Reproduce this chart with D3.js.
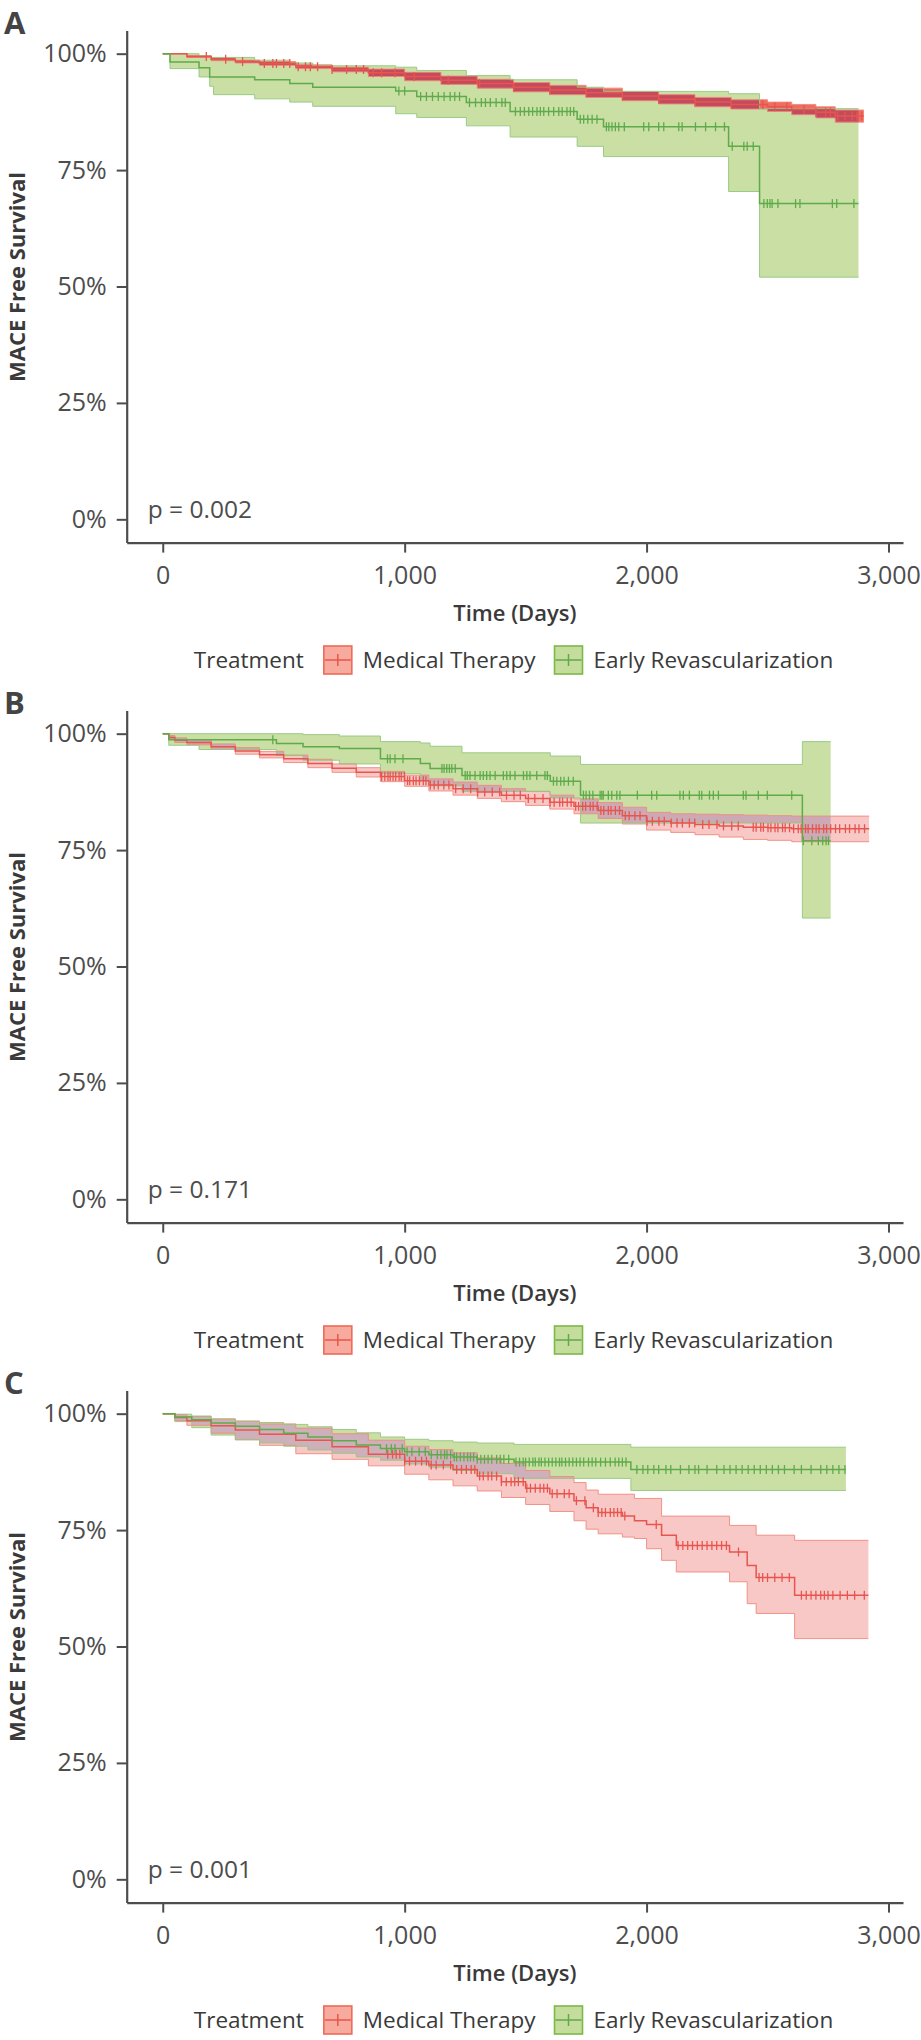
<!DOCTYPE html>
<html><head><meta charset="utf-8">
<script src="https://cdn.jsdelivr.net/npm/d3@7"></script>
<style>
body{margin:0;background:#fff;}
svg text{font-family:"Open Sans",sans-serif;}
</style></head>
<body><svg id="chart" width="921" height="2040"></svg>
<script>
// ---------- labels ----------
const panelLetters = ["A", "B", "C"];
const pValues = ["p = 0.002", "p = 0.171", "p = 0.001"];
const groups = ["Medical Therapy", "Early Revascularization"];
const legendTitle = "Treatment";
const xTitle = "Time (Days)";
const yTitle = "MACE Free Survival";
const xTicks = [0, 1000, 2000, 3000];
const yTicks = [0, 25, 50, 75, 100];
const yTickLabels = ["0%", "25%", "50%", "75%", "100%"];

// ---------- Panel A ----------
const A_med_time  = [0, 100, 200, 300, 400, 550, 700, 850, 1000, 1150, 1300, 1450, 1600, 1750, 1900, 2050, 2200, 2350, 2500, 2600, 2700, 2780];
const A_med_surv  = [100, 99.4, 98.8, 98.3, 97.9, 97.2, 96.6, 95.9, 95.1, 94.3, 93.6, 92.8, 92.2, 91.6, 90.9, 90.2, 89.6, 89.1, 88.6, 88.0, 87.4, 86.6];
const A_med_lower = [100, 99.2, 98.5, 98.0, 97.5, 96.8, 96.1, 95.1, 94.2, 93.4, 92.6, 91.8, 91.2, 90.6, 89.9, 89.2, 88.6, 88.1, 87.6, 86.9, 86.2, 85.3];
const A_med_upper = [100, 99.6, 99.1, 98.6, 98.3, 97.6, 97.1, 96.7, 96.0, 95.2, 94.5, 93.8, 93.2, 92.6, 91.9, 91.2, 90.6, 90.1, 89.6, 89.1, 88.6, 87.9];
const A_med_end = 2898;
const A_med_censor = [180, 260, 330, 420, 455, 470, 500, 525, 560, 590, 610, 640, 700, 760, 800, 830, 870, 905, 960, 1040, 1180, 1310, 1450, 1600, 1750, 1900, 2050, 2200, 2350, 2480, 2530, 2580, 2650, 2700, 2740, 2760, 2790, 2820, 2850, 2870, 2890];

const A_rev_time  = [0, 30, 150, 194, 210, 380, 525, 620, 963, 1050, 1255, 1436, 1713, 1822, 2339, 2467];
const A_rev_surv  = [100, 98.2, 97.0, 95.0, 95.0, 94.4, 93.6, 92.8, 92.0, 90.8, 89.5, 87.6, 85.9, 84.3, 80.1, 67.8];
const A_rev_lower = [100, 96.8, 95.0, 93.0, 91.2, 90.3, 89.6, 88.7, 87.1, 86.3, 84.5, 82.1, 80.1, 77.9, 70.4, 52.0];
const A_rev_upper = [100, 100, 99.6, 99.2, 99.2, 98.6, 98.0, 97.4, 97.1, 96.4, 95.3, 94.4, 92.8, 91.9, 91.4, 88.2];
const A_rev_end = 2876;
const A_rev_censor = [976, 1000, 1066, 1090, 1115, 1139, 1163, 1188, 1207, 1227, 1268, 1293, 1317, 1334, 1354, 1378, 1402, 1416, 1458, 1478, 1495, 1513, 1529, 1547, 1561, 1575, 1595, 1616, 1637, 1651, 1671, 1685, 1699, 1726, 1740, 1757, 1775, 1795, 1834, 1844, 1857, 1871, 1885, 1908, 1988, 2009, 2050, 2071, 2133, 2147, 2202, 2244, 2285, 2322, 2354, 2402, 2416, 2441, 2485, 2499, 2510, 2519, 2543, 2616, 2634, 2768, 2786, 2857];

// ---------- Panel B ----------
const B_med_time  = [0, 25, 50, 100, 200, 300, 400, 500, 600, 700, 800, 900, 1000, 1100, 1200, 1300, 1400, 1500, 1600, 1700, 1800, 1900, 2000, 2100, 2200, 2300, 2400, 2500, 2600];
const B_med_surv  = [100, 99.2, 98.6, 98.1, 97.2, 96.3, 95.5, 94.6, 93.6, 92.6, 91.7, 90.8, 89.9, 89.0, 88.2, 87.5, 86.8, 86.1, 85.3, 84.4, 83.5, 82.4, 81.2, 80.8, 80.5, 80.2, 79.9, 79.8, 79.6];
const B_med_lower = [100, 98.8, 98.1, 97.6, 96.6, 95.6, 94.8, 93.8, 92.7, 91.7, 90.7, 89.7, 88.7, 87.7, 86.8, 86.1, 85.4, 84.6, 83.8, 82.8, 81.8, 80.6, 79.3, 78.8, 78.3, 77.8, 77.3, 77.1, 76.8];
const B_med_upper = [100, 99.6, 99.1, 98.6, 97.8, 97.0, 96.2, 95.4, 94.5, 93.5, 92.7, 91.9, 91.1, 90.3, 89.6, 88.9, 88.2, 87.6, 86.8, 86.0, 85.2, 84.2, 83.1, 82.8, 82.7, 82.6, 82.5, 82.4, 82.3];
const B_med_end = 2920;
const B_med_censor = [905, 918, 931, 940, 952, 963, 977, 986, 999, 1012, 1021, 1036, 1047, 1061, 1077, 1088, 1106, 1122, 1139, 1162, 1183, 1211, 1242, 1273, 1302, 1331, 1362, 1393, 1421, 1452, 1478, 1511, 1538, 1572, 1601, 1618, 1641, 1653, 1672, 1688, 1707, 1719, 1736, 1748, 1767, 1779, 1796, 1811, 1823, 1842, 1853, 1871, 1888, 1912, 1928, 1952, 1973, 2002, 2024, 2051, 2073, 2102, 2126, 2148, 2177, 2199, 2232, 2258, 2291, 2318, 2352, 2379, 2441, 2453, 2472, 2483, 2502, 2514, 2531, 2543, 2562, 2573, 2591, 2608, 2627, 2639, 2657, 2668, 2686, 2701, 2713, 2732, 2744, 2761, 2781, 2798, 2822, 2839, 2862, 2878, 2901];

const B_rev_time  = [0, 25, 150, 470, 580, 730, 900, 1065, 1105, 1237, 1602, 1727, 2644];
const B_rev_surv  = [100, 98.7, 98.7, 97.9, 97.2, 96.8, 94.6, 93.6, 92.5, 91.0, 89.8, 86.8, 77.0];
const B_rev_lower = [100, 97.5, 96.6, 95.3, 94.3, 93.5, 91.4, 89.9, 88.8, 87.6, 86.2, 80.8, 60.4];
const B_rev_upper = [100, 100, 100, 100, 99.8, 99.5, 98.3, 98.0, 97.3, 95.9, 95.2, 93.4, 98.3];
const B_rev_end = 2761;
const B_rev_censor = [455, 929, 940, 960, 993, 1154, 1163, 1174, 1185, 1195, 1209, 1250, 1259, 1270, 1291, 1312, 1325, 1339, 1353, 1374, 1408, 1422, 1436, 1456, 1491, 1505, 1518, 1546, 1580, 1590, 1615, 1629, 1645, 1659, 1677, 1697, 1739, 1750, 1764, 1778, 1808, 1815, 1821, 1842, 1856, 1877, 1890, 1962, 2021, 2042, 2138, 2152, 2177, 2218, 2228, 2260, 2276, 2297, 2400, 2411, 2462, 2499, 2600, 2648, 2683, 2710, 2728, 2742, 2752];

// ---------- Panel C ----------
const C_med_time  = [0, 50, 100, 200, 300, 400, 550, 700, 850, 1000, 1100, 1200, 1300, 1400, 1500, 1600, 1700, 1750, 1800, 1900, 1950, 2000, 2062, 2123, 2343, 2416, 2453, 2612];
const C_med_surv  = [100, 99.2, 98.5, 97.4, 96.5, 95.6, 94.3, 92.9, 91.3, 89.8, 89.0, 88.0, 86.6, 85.4, 84.0, 82.8, 81.3, 79.8, 78.8, 78.0, 77.0, 76.2, 73.9, 71.7, 70.3, 67.4, 64.8, 61.0];
const C_med_lower = [100, 98.5, 97.5, 95.8, 94.4, 93.2, 91.4, 90.2, 88.8, 87.0, 85.8, 84.5, 83.4, 82.0, 80.5, 79.0, 77.0, 75.2, 74.2, 73.5, 73.2, 71.0, 68.5, 66.0, 63.9, 59.2, 57.1, 51.7];
const C_med_upper = [100, 99.8, 99.4, 98.9, 98.4, 97.8, 96.9, 95.7, 94.3, 93.0, 92.3, 91.6, 90.5, 89.3, 87.8, 86.5, 85.2, 83.6, 82.7, 82.7, 81.8, 81.8, 78.0, 78.0, 76.0, 76.0, 73.9, 72.8];
const C_med_end = 2917;
const C_med_censor = [930, 950, 965, 980, 1000, 1020, 1045, 1070, 1090, 1110, 1130, 1160, 1190, 1215, 1235, 1255, 1275, 1290, 1310, 1325, 1345, 1360, 1380, 1400, 1420, 1440, 1455, 1470, 1490, 1505, 1520, 1540, 1560, 1575, 1590, 1610, 1630, 1660, 1680, 1710, 1745, 1780, 1800, 1815, 1830, 1850, 1865, 1880, 1895, 1910, 2040, 2130, 2150, 2170, 2190, 2210, 2230, 2250, 2270, 2290, 2310, 2330, 2380, 2465, 2480, 2500, 2530, 2560, 2590, 2640, 2660, 2680, 2700, 2720, 2735, 2750, 2770, 2800, 2830, 2860, 2900];

const C_rev_time  = [0, 50, 120, 200, 300, 400, 500, 600, 700, 800, 900, 1000, 1100, 1200, 1300, 1452, 1935];
const C_rev_surv  = [100, 99.3, 98.7, 98.0, 97.3, 96.6, 95.8, 95.0, 94.2, 93.3, 92.5, 91.8, 91.2, 90.7, 90.2, 89.6, 88.0];
const C_rev_lower = [100, 98.3, 97.0, 95.4, 94.4, 93.7, 93.0, 92.2, 91.5, 90.7, 90.0, 89.2, 88.5, 87.8, 87.1, 86.1, 83.5];
const C_rev_upper = [100, 99.9, 99.5, 98.8, 98.4, 98.1, 97.7, 97.2, 96.6, 95.9, 95.0, 94.5, 94.2, 93.9, 93.7, 93.4, 92.8];
const C_rev_end = 2824;
const C_rev_censor = [925, 945, 960, 990, 1010, 1030, 1060, 1085, 1110, 1135, 1150, 1165, 1175, 1190, 1205, 1215, 1230, 1245, 1260, 1272, 1285, 1300, 1315, 1330, 1345, 1360, 1380, 1395, 1410, 1430, 1460, 1475, 1490, 1500, 1515, 1530, 1540, 1555, 1565, 1580, 1595, 1610, 1625, 1640, 1650, 1665, 1680, 1695, 1710, 1725, 1740, 1760, 1775, 1790, 1810, 1830, 1850, 1870, 1885, 1900, 1915, 1960, 1985, 2005, 2030, 2050, 2080, 2100, 2140, 2175, 2200, 2215, 2250, 2290, 2320, 2345, 2370, 2395, 2420, 2445, 2470, 2495, 2520, 2545, 2570, 2610, 2640, 2680, 2720, 2745, 2770, 2795, 2820];

// ---------- assemble ----------
function grp(time, surv, lower, upper, end, censor) { return {time, surv, lower, upper, end, censor}; }
const panels = [
  {med: grp(A_med_time, A_med_surv, A_med_lower, A_med_upper, A_med_end, A_med_censor),
   rev: grp(A_rev_time, A_rev_surv, A_rev_lower, A_rev_upper, A_rev_end, A_rev_censor)},
  {med: grp(B_med_time, B_med_surv, B_med_lower, B_med_upper, B_med_end, B_med_censor),
   rev: grp(B_rev_time, B_rev_surv, B_rev_lower, B_rev_upper, B_rev_end, B_rev_censor)},
  {med: grp(C_med_time, C_med_surv, C_med_lower, C_med_upper, C_med_end, C_med_censor),
   rev: grp(C_rev_time, C_rev_surv, C_rev_lower, C_rev_upper, C_rev_end, C_rev_censor)}
];

// ---------- style ----------
const PANEL_H = 680;
const style = {
  axis: "#4d4d4d", text: "#4d4d4d", title: "#3a3a3a",
  redLine: "#e8554e", redFill: "#f8c8c6", redEdge: "#f08a7c",
  greenLine: "#5fab4b", greenFill: "#c9dfa4", greenEdge: "#93c77f",
  overlap: ["#c34b5e", "#cbaab5", "#cdb0b9"],
  redFillPanel: ["#ee6d60", "#f8c8c6", "#f8c8c6"]
};

const svg = d3.select("#chart");
const x = d3.scaleLinear().domain([-149, 3060]).range([126.7, 903]);

panels.forEach((p, i) => {
  const off = i * PANEL_H;
  const y = d3.scaleLinear().domain([-5, 105]).range([542.6 + off, 30.4 + off]);
  const g = svg.append("g");

  const pts = gr => {
    const a = gr.time.map((t, k) => ({t, s: gr.surv[k], lo: gr.lower[k], hi: gr.upper[k]}));
    const last = a[a.length - 1];
    a.push({t: gr.end, s: last.s, lo: last.lo, hi: last.hi});
    return a;
  };
  const med = pts(p.med), rev = pts(p.rev);
  const area = d3.area().x(d => x(d.t)).y0(d => y(d.lo)).y1(d => y(d.hi)).curve(d3.curveStepAfter);
  const lineS = d3.line().x(d => x(d.t)).y(d => y(d.s)).curve(d3.curveStepAfter);
  const lineLo = d3.line().x(d => x(d.t)).y(d => y(d.lo)).curve(d3.curveStepAfter);
  const lineHi = d3.line().x(d => x(d.t)).y(d => y(d.hi)).curve(d3.curveStepAfter);

  // ribbons
  g.append("path").attr("d", area(rev)).attr("fill", style.greenFill);
  g.append("path").attr("d", area(med)).attr("fill", style.redFillPanel[i]);
  const cid = "clipG" + i;
  svg.append("clipPath").attr("id", cid).append("path").attr("d", area(rev));
  g.append("path").attr("d", area(med)).attr("fill", style.overlap[i]).attr("clip-path", `url(#${cid})`);
  // ribbon edges
  [lineLo, lineHi].forEach(L => {
    g.append("path").attr("d", L(med)).attr("fill", "none").attr("stroke", style.redEdge).attr("stroke-width", 1).attr("opacity", 0.9);
  });
  [lineLo, lineHi].forEach(L => {
    g.append("path").attr("d", L(rev)).attr("fill", "none").attr("stroke", style.greenEdge).attr("stroke-width", 1).attr("opacity", 0.9);
  });
  // survival lines
  g.append("path").attr("d", lineS(med)).attr("fill", "none").attr("stroke", style.redLine).attr("stroke-width", 1.5);
  g.append("path").attr("d", lineS(rev)).attr("fill", "none").attr("stroke", style.greenLine).attr("stroke-width", 1.5);
  // censor marks
  const survAt = (gr, t) => gr.surv[Math.max(0, d3.bisectRight(gr.time, t) - 1)];
  [[p.med, style.redLine], [p.rev, style.greenLine]].forEach(([gr, col]) => {
    g.append("g").selectAll("line").data(gr.censor).join("line")
      .attr("x1", d => x(d)).attr("x2", d => x(d))
      .attr("y1", d => y(survAt(gr, d)) - 4.5).attr("y2", d => y(survAt(gr, d)) + 4.5)
      .attr("stroke", col).attr("stroke-width", 1.3);
  });

  // axes
  const gx = g.append("g").attr("transform", `translate(0,${y(-5)})`)
    .call(d3.axisBottom(x).tickValues(xTicks).tickFormat(d3.format(",")).tickSize(10).tickSizeOuter(0).tickPadding(14));
  const gy = g.append("g").attr("transform", `translate(${x(-149)},0)`)
    .call(d3.axisLeft(y).tickValues(yTicks).tickFormat((d, k) => yTickLabels[k]).tickSize(10).tickSizeOuter(0).tickPadding(10));
  [gx, gy].forEach(ax => {
    ax.attr("font-family", null).attr("font-size", null);
    ax.select(".domain").attr("stroke", style.axis).attr("stroke-width", 2.2);
    ax.selectAll(".tick line").attr("stroke", style.axis).attr("stroke-width", 2);
    ax.selectAll(".tick text").attr("fill", style.text).style("font-size", "25px");
  });

  // p value
  g.append("text").attr("x", x(-62)).attr("y", y(2.2)).attr("dy", "0.35em")
    .attr("fill", style.text).style("font-size", "24.5px").text(pValues[i]);

  // axis titles
  g.append("text").attr("x", (x.range()[0] + x.range()[1]) / 2).attr("y", 621 + off)
    .attr("text-anchor", "middle").attr("fill", style.title).style("font-size", "22px").style("font-weight", 600).text(xTitle);
  g.append("text").attr("transform", `translate(25,${277 + off}) rotate(-90)`)
    .attr("text-anchor", "middle").attr("fill", style.title).style("font-size", "22px").style("font-weight", 700).text(yTitle);

  // panel letter
  g.append("text").attr("x", 4).attr("y", 34 + off).attr("fill", "#444").style("font-size", "31px").style("font-weight", 700).text(panelLetters[i]);

  // legend
  const lg = g.append("g");
  const cy = 660 + off;
  const t0 = lg.append("text").attr("x", 0).attr("y", cy).attr("dy", "0.35em").attr("fill", style.title).style("font-size", "22.5px").text(legendTitle);
  let cx = t0.node().getComputedTextLength() + 20;
  const legCols = [[style.redLine, "#f6ab9e", "#ef6b58"], [style.greenLine, "#c4dc9c", "#7cba46"]];
  groups.forEach((name, k) => {
    const [lc, fc, bc] = legCols[k];
    lg.append("rect").attr("x", cx).attr("y", cy - 14).attr("width", 28).attr("height", 28).attr("fill", fc).attr("stroke", bc).attr("stroke-width", 1.6);
    lg.append("line").attr("x1", cx + 1).attr("x2", cx + 27).attr("y1", cy).attr("y2", cy).attr("stroke", lc).attr("stroke-width", 1.5);
    lg.append("line").attr("x1", cx + 14).attr("x2", cx + 14).attr("y1", cy - 6).attr("y2", cy + 6).attr("stroke", lc).attr("stroke-width", 1.5);
    const tt = lg.append("text").attr("x", cx + 39).attr("y", cy).attr("dy", "0.35em").attr("fill", style.title).style("font-size", "22.5px").text(name);
    cx += 39 + tt.node().getComputedTextLength() + 19;
  });
  const lw = cx - 19;
  lg.attr("transform", `translate(${513.5 - lw / 2},0)`);
});
</script>
</body></html>
